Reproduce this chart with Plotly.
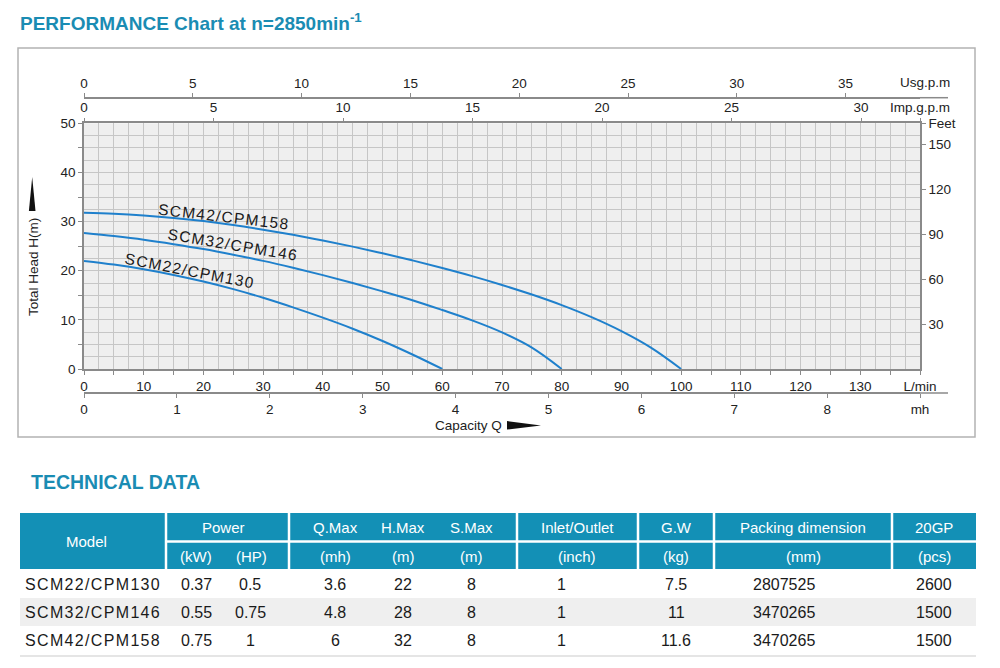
import plotly.graph_objects as go

# ---------------- data ----------------
flow_130 = [0, 5, 10, 15, 20, 25, 30, 35, 40, 45, 50, 55, 60]
head_130 = [22.0, 21.25, 20.3, 19.15, 17.8, 16.25, 14.5, 12.55, 10.45, 8.2, 5.7, 2.95, 0.0]
flow_146 = [0, 5, 10, 15, 20, 25, 30, 35, 40, 45, 50, 55, 60, 65, 70, 75, 80]
head_146 = [27.7, 27.05, 26.3, 25.4, 24.4, 23.25, 22.0, 20.6, 19.1, 17.5, 15.8, 14.0, 12.0, 9.9, 7.45, 4.35, 0.0]
flow_158 = [0, 5, 10, 15, 20, 25, 30, 35, 40, 45, 50, 55, 60, 65, 70, 75, 80, 85, 90, 95, 100]
head_158 = [31.8, 31.6, 31.25, 30.75, 30.1, 29.3, 28.35, 27.3, 26.15, 24.9, 23.55, 22.1, 20.55, 18.9, 17.1,
            15.15, 13.0, 10.55, 7.7, 4.3, 0.0]

curve_names = ["SCM22/CPM130", "SCM32/CPM146", "SCM42/CPM158"]
label_q = [17.6, 24.8, 23.3]
label_h = [20.1, 25.4, 31.1]
label_angle = [11, 9.5, 6.5]

lmin_ticks = list(range(0, 145, 5))
head_ticks = list(range(0, 55, 5))
feet_ticks = [30, 60, 90, 120, 150]
mh_ticks = [0, 1, 2, 3, 4, 5, 6, 7, 8]
imp_ticks = [0, 5, 10, 15, 20, 25, 30]
usg_ticks = [0, 5, 10, 15, 20, 25, 30, 35]

models = ["SCM22/CPM130", "SCM32/CPM146", "SCM42/CPM158"]
power_kw = ["0.37", "0.55", "0.75"]
power_hp = ["0.5", "0.75", "1"]
q_max = ["3.6", "4.8", "6"]
h_max = ["22", "28", "32"]
s_max = ["8", "8", "8"]
inlet = ["1", "1", "1"]
gross_w = ["7.5", "11", "11.6"]
packing = ["2807525", "3470265", "3470265"]
gp20 = ["2600", "1500", "1500"]

header_top = ["Power", "Q.Max", "H.Max", "S.Max", "Inlet/Outlet", "G.W", "Packing dimension", "20GP"]
header_units = ["(kW)", "(HP)", "(mh)", "(m)", "(m)", "(inch)", "(kg)", "(mm)", "(pcs)"]

# ---------------- geometry / style ----------------
W, H = 1000, 668
def px(x): return x / W
def py(y): return (H - y) / H

FONT = "Liberation Sans, Arial, sans-serif"
TEAL = "#1a8cb3"
HEAD_BG = "#1390b6"
AX = "#8a8a8a"
GRID = "#c6c6c6"
BLUE = "#1f80cc"
HS = "\u200a"

def spaced(s):
    return HS.join(list(s))

MH_PX = 92.9             # px per m3/h
IMP_PX = 25.9            # px per imp gpm
USG_PX = 21.76           # px per US gpm
X0, X1, X1_EXT = 84, 920, 948
Y_TOP, Y_BOT = 123.3, 369
Y_USG, Y_MH = 97.7, 393

fig = go.Figure()
for q, h in [(flow_130, head_130), (flow_146, head_146), (flow_158, head_158)]:
    fig.add_trace(go.Scatter(x=q, y=h, mode="lines", line=dict(color=BLUE, width=2, shape="spline", smoothing=1),
                             hoverinfo="skip", showlegend=False))

tickfont = dict(family=FONT, size=13.5, color="#222")

def lbl(vals, step):
    return [str(v) if v % step == 0 else "" for v in vals]

lmin_text = lbl(lmin_ticks, 10)
lmin_text[-1] = "L/min"
head_text = lbl(head_ticks, 10)

feet_max = 50 * 3.28084
common = dict(ticks="outside", ticklen=4, tickcolor=AX, showline=True, linecolor=AX, linewidth=1.5,
              zeroline=False, tickfont=tickfont, fixedrange=True)
fig.update_layout(
    width=W, height=H, margin=dict(l=0, r=0, t=0, b=0, autoexpand=False),
    paper_bgcolor="white", plot_bgcolor="#efefef", showlegend=False,
    xaxis=dict(domain=[px(X0), px(X1)], range=[0, 140], tickvals=lmin_ticks, ticktext=lmin_text,
               showgrid=True, gridcolor=GRID, gridwidth=1,
               minor=dict(dtick=2.5, showgrid=True, gridcolor=GRID, gridwidth=1, ticks=""),
               anchor="y", **common),
    yaxis=dict(domain=[py(Y_BOT), py(Y_TOP)], range=[0, 50], tickvals=head_ticks, ticktext=head_text,
               showgrid=True, gridcolor=GRID, gridwidth=1,
               minor=dict(dtick=2.5, showgrid=True, gridcolor=GRID, gridwidth=1, ticks=""),
               anchor="x", **common),
    yaxis2=dict(overlaying="y", side="right", anchor="x", range=[0, feet_max],
                tickvals=feet_ticks + [feet_max], ticktext=[str(v) for v in feet_ticks] + ["Feet"],
                showgrid=False, **common),
    xaxis4=dict(overlaying="x", side="top", anchor="y", range=[0, (X1 - X0) / IMP_PX],
                tickvals=imp_ticks + [(X1 - X0) / IMP_PX], ticktext=[str(v) for v in imp_ticks] + ["Imp.g.p.m"],
                showgrid=False, **common),
    xaxis3=dict(overlaying="x", anchor="free", position=py(Y_USG), side="top",
                range=[0, (X1 - X0) / USG_PX], tickvals=usg_ticks, ticktext=[str(v) for v in usg_ticks],
                showgrid=False, **common),
    xaxis2=dict(overlaying="x", anchor="free", position=py(Y_MH), side="bottom",
                range=[0, (X1 - X0) / MH_PX],
                tickvals=mh_ticks + [(X1 - X0) / MH_PX], ticktext=[str(v) for v in mh_ticks] + ["mh"],
                showgrid=False, **common),
)
# register the extra axes with empty traces
fig.add_trace(go.Scatter(x=[], y=[], xaxis="x2", yaxis="y", showlegend=False))
fig.add_trace(go.Scatter(x=[], y=[], xaxis="x3", yaxis="y", showlegend=False))
fig.add_trace(go.Scatter(x=[], y=[], xaxis="x4", yaxis="y", showlegend=False))
fig.add_trace(go.Scatter(x=[], y=[], xaxis="x", yaxis="y2", showlegend=False))

ann = []
shapes = []

# curve labels
for name, q, h, a in zip(curve_names, label_q, label_h, label_angle):
    ann.append(dict(x=q, y=h, xref="x", yref="y", text=spaced(name), textangle=a, showarrow=False,
                    xanchor="center", yanchor="middle",
                    font=dict(family=FONT, size=15.5, color="#1a1a1a")))

def pann(x, y, text, font, xanchor="center", **kw):
    ann.append(dict(x=px(x), y=py(y), xref="paper", yref="paper", text=text, showarrow=False,
                    xanchor=xanchor, yanchor="middle", font=font, **kw))

# titles
pann(18, 22, "<b>PERFORMANCE Chart at n=2850min<sup>-1</sup></b>", dict(family=FONT, size=19, color=TEAL), "left")
pann(29, 482, "<b>TECHNICAL DATA</b>", dict(family=FONT, size=19.5, color=TEAL), "left")
pann(925, 82, "Usg.p.m", tickfont)
pann(33, 267, "Total Head H(m)", tickfont, textangle=-90)
pann(468, 425.5, "Capacity Q", tickfont)

# axis line extensions beyond the plot frame
for yy in [Y_USG, Y_MH]:
    shapes.append(dict(type="line", xref="paper", yref="paper", x0=px(X1), x1=px(X1_EXT), y0=py(yy), y1=py(yy),
                       line=dict(color=AX, width=1.5)))

# arrows
shapes.append(dict(type="path", xref="paper", yref="paper",
                   path=f"M {px(32.2)} {py(177)} L {px(35.5)} {py(211)} L {px(28.9)} {py(211)} Z",
                   fillcolor="#111", line=dict(width=0)))
shapes.append(dict(type="path", xref="paper", yref="paper",
                   path=f"M {px(507)} {py(421)} L {px(541)} {py(425.5)} L {px(507)} {py(429.5)} Z",
                   fillcolor="#111", line=dict(width=0)))
# outer chart border
shapes.append(dict(type="rect", xref="paper", yref="paper", x0=px(18), x1=px(975), y0=py(437), y1=py(48),
                   line=dict(color="#b3b3b3", width=1.5)))

# ---------------- table ----------------
T_L, T_R = 20, 976
HDR_T, HDR_M, HDR_B = 513, 541.5, 569
row_y = [584, 612, 640]
shapes.append(dict(type="rect", xref="paper", yref="paper", x0=px(T_L), x1=px(T_R), y0=py(HDR_B), y1=py(HDR_T),
                   fillcolor=HEAD_BG, line=dict(width=0), layer="below"))
shapes.append(dict(type="rect", xref="paper", yref="paper", x0=px(T_L), x1=px(T_R), y0=py(626), y1=py(598),
                   fillcolor="#efefef", line=dict(width=0), layer="below"))
shapes.append(dict(type="line", xref="paper", yref="paper", x0=px(T_L), x1=px(T_R), y0=py(656), y1=py(656),
                   line=dict(color="#dcdcdc", width=1.5)))
for xs in [166, 289, 517, 638, 714, 892]:
    shapes.append(dict(type="line", xref="paper", yref="paper", x0=px(xs), x1=px(xs), y0=py(HDR_B), y1=py(HDR_T),
                       line=dict(color="white", width=2.5)))
shapes.append(dict(type="line", xref="paper", yref="paper", x0=px(166), x1=px(T_R), y0=py(HDR_M), y1=py(HDR_M),
                   line=dict(color="white", width=2.5)))

hfont = dict(family=FONT, size=15, color="white")
dfont = dict(family=FONT, size=16, color="#1a1a1a")
pann(86, 541, "Model", hfont)
top_x = [223, 335, 403, 471, 577, 676, 803, 934]
for t, xx in zip(header_top, top_x):
    pann(xx, 527.5, t, hfont)
unit_x = [196, 251, 335, 403, 471, 577, 676, 803, 934]
for t, xx in zip(header_units, unit_x):
    pann(xx, 556, t, hfont)

col_x = [196, 250, 335, 403, 471, 561, 676, 784, 934]
cols = [power_kw, power_hp, q_max, h_max, s_max, inlet, gross_w, packing, gp20]
for i, yy in enumerate(row_y):
    pann(23, yy, spaced(models[i]), dfont, "left")
    for c, xx in zip(cols, col_x):
        pann(xx, yy, c[i], dfont)

fig.update_layout(annotations=ann, shapes=shapes)

post = ("document.documentElement.style.margin='0';document.body.style.margin='0';"
        "document.body.style.padding='0';document.body.style.overflow='hidden';"
        "document.documentElement.style.overflow='hidden';")
fig.write_html("out.html", post_script=post)
